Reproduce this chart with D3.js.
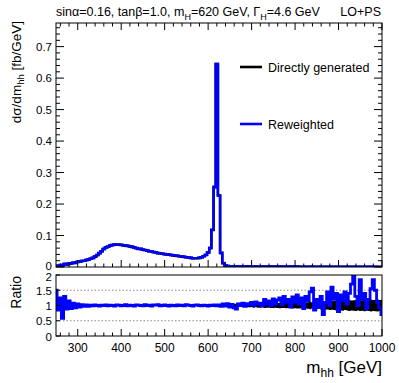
<!DOCTYPE html>
<html><head><meta charset="utf-8">
<script src="https://cdn.jsdelivr.net/npm/d3@7"></script>
<style>
body{margin:0;background:#fff;}
svg text{font-family:"Liberation Sans",Arial,Helvetica,sans-serif;fill:#000;}
</style>
</head><body>
<svg id="c" width="399" height="383"></svg>
<script>
// ---------------- data ----------------
const binWidth = 5;
const massCenters = d3.range(250, 1001, binWidth); // 151 bin centres, GeV

const directlyGenerated = [
  .003,.004,.005,.006,.008,.009,.010,.012,.013,.014,
  .016,.017,.019,.020,.022,.024,.026,.029,.033,.038,
  .044,.050,.057,.062,.065,.068,.070,.071,.071,.071,
  .070,.069,.068,.067,.065,.064,.062,.060,.058,.057,
  .055,.054,.052,.050,.049,.047,.046,.044,.043,.042,
  .041,.040,.039,.038,.037,.036,.035,.034,.033,.032,
  .031,.030,.029,.028,.028,.028,.029,.031,.034,.038,
  .046,.060,.118,.255,.645,.227,.045,.012,.005,.003,
  .0025,.0024,.0023,.0022,.0022,.0021,.0020,.0020,.0019,.0019,
  .0018,.0018,.0017,.0017,.0016,.0016,.0015,.0015,.0015,.0014,
  .0014,.0014,.0013,.0013,.0013,.0012,.0012,.0012,.0011,.0011,
  .0011,.0011,.0010,.0010,.0010,.0010,.0009,.0009,.0009,.0009,
  .0009,.0008,.0008,.0008,.0008,.0008,.0007,.0007,.0007,.0007,
  .0007,.0007,.0006,.0006,.0006,.0006,.0006,.0006,.0006,.0005,
  .0005,.0005,.0005,.0005,.0005,.0005,.0005,.0004,.0004,.0004,
  .0004
];

const reweighted = [
  .0045,.0034,.0062,.0035,.0104,.0079,.0115,.0108,.014,.0129,
  .0168,.0162,.0196,.0194,.0224,.0233,.0263,.0287,.0337,.0380,
  .0440,.0495,.0570,.0620,.0644,.0683,.0700,.0717,.0710,.0710,
  .0706,.0690,.0680,.0670,.0663,.0647,.0620,.0600,.0568,.0581,
  .0556,.0537,.0525,.0500,.0500,.0480,.0460,.0440,.0434,.0424,
  .0410,.0400,.0395,.0380,.0377,.0360,.0357,.0340,.0337,.0322,
  .0307,.0301,.0292,.0280,.0283,.0282,.0290,.0308,.0344,.0384,
  .0460,.0606,.1180,.2525,.6450,.2270,.0446,.0125,.0049,.0032,
  .0024,.0025,.0021,.0019,.0023,.0021,.0022,.0019,.0020,.0019,
  .0020,.0018,.0019,.0018,.0017,.0016,.0018,.0016,.0017,.0014,
  .0017,.0015,.0015,.0016,.0013,.0016,.0013,.0014,.0010,.0014,
  .0012,.0015,.0011,.0013,.0009,.0013,.0010,.0013,.0014,.0008,
  .0011,.0008,.0010,.0006,.0009,.0012,.0007,.0011,.0008,.0010,
  .0006,.0009,.0007,.0009,.0006,.0008,.0010,.0012,.0008,.0006,
  .0009,.0006,.0007,.0005,.0006,.0008,.0009,.0006,.0004,.0003,
  .0003
];

const ratioReweighted = [
  1.50,0.85,1.25,0.58,1.30,0.88,1.15,0.90,1.08,0.92,
  1.05,0.95,1.03,0.97,1.02,0.97,
  1.01,0.99,1.02,1.00,0.98,1.01,1.00,1.02,0.99,1.01,
  1.00,0.98,1.02,1.01,0.99,1.00,1.03,0.99,1.01,1.00,
  0.98,1.02,1.01,1.00,0.99,1.03,1.00,1.01,0.98,1.02,
  1.01,1.03,0.99,1.00,1.02,1.00,0.98,1.01,1.00,0.99,
  1.02,1.00,1.01,0.99,1.03,1.01,1.00,0.98,1.01,1.02,
  1.00,0.99,1.01,1.00,0.98,1.01,1.00,1.02,0.99,
  1.02,0.97,1.05,0.98,1.06,0.95,1.04,0.92,0.88,1.05,
  1.00,1.08,0.97,1.06,1.02,1.10,1.00,1.12,1.05,1.08,
  0.98,1.20,1.05,1.15,1.00,1.22,1.05,1.18,1.25,1.02,
  1.30,1.10,1.20,0.95,1.28,1.10,1.35,1.05,1.25,0.90,
  1.30,1.15,1.45,1.57,0.85,1.20,0.95,1.30,0.70,1.10,
  1.45,1.00,1.60,1.20,1.40,0.80,1.35,1.15,1.45,1.05,
  1.40,1.70,2.00,1.30,1.00,1.85,1.20,1.40,0.90,1.20,
  1.55,1.85,1.50,1.10,0.95,0.70
];

const ratioDirectBandHalf = [
  .12,.10,.09,.08,.07,.06,.06,.05,.05,.04,
  .04,.04,.03,.03,.03,.03,.025,.025,.02,.02,
  .02,.02,.02,.02,.02,.02,.02,.02,.02,.02,
  .02,.02,.02,.02,.02,.02,.02,.02,.02,.02,
  .02,.02,.02,.02,.02,.02,.02,.02,.02,.02,
  .02,.02,.02,.02,.02,.02,.02,.02,.02,.02,
  .02,.02,.02,.02,.02,.02,.02,.02,.02,.02,
  .02,.02,.015,.01,.01,.03,.04,.04,.05,.04,
  .05,.04,.05,.06,.05,.05,.06,.05,.06,.06,
  .06,.07,.06,.07,.07,.06,.08,.07,.07,.08,
  .08,.07,.08,.09,.08,.08,.09,.08,.09,.10,
  .09,.10,.10,.09,.11,.10,.11,.12,.10,.12,
  .12,.11,.13,.12,.14,.13,.15,.14,.15,.16,
  .15,.16,.17,.15,.16,.18,.16,.17,.18,.16,
  .18,.17,.19,.17,.18,.20,.18,.19,.20,.18,
  .19
];

const xMajorTicks = [300,400,500,600,700,800,900,1000];
const yMajorTicksTop = [0,0.1,0.2,0.3,0.4,0.5,0.6,0.7];
const yTickLabelsTop = ["0","0.1","0.2","0.3","0.4","0.5","0.6","0.7"];
const yMajorTicksRatio = [0,0.5,1,1.5,2];
const yTickLabelsRatio = ["0","0.5","1","1.5","2"];
const ratioGuideLines = [0.5,1.5];
const legendLabels = ["Directly generated","Reweighted"];
const seriesColors = ["#000000","#0000ff"];

// ---------------- layout ----------------
const svg = d3.select("#c");
const L = 56, R = 382;
const topT = 23, topB = 267;
const ratT = 275, ratB = 336;

const x = d3.scaleLinear().domain([250,1000]).range([L,R]);
const yTop = d3.scaleLinear().domain([0,0.775]).range([topB,topT]);
const yRat = d3.scaleLinear().domain([0,2]).range([ratB,ratT]);

const defs = svg.append("defs");
defs.append("clipPath").attr("id","clipTop").append("rect")
  .attr("x",L).attr("y",topT).attr("width",R-L).attr("height",topB-topT);
defs.append("clipPath").attr("id","clipRat").append("rect")
  .attr("x",L).attr("y",ratT).attr("width",R-L).attr("height",ratB-ratT);

function stepPoints(vals){
  const pts=[];
  massCenters.forEach((c,i)=>{
    const x0=Math.max(250,c-binWidth/2), x1=Math.min(1000,c+binWidth/2);
    pts.push([x0,vals[i]],[x1,vals[i]]);
  });
  return pts;
}

// ---------------- top panel ----------------
const lineTop = d3.line().x(d=>x(d[0])).y(d=>yTop(d[1]));
const gTop = svg.append("g").attr("clip-path","url(#clipTop)");
gTop.append("path").attr("d",lineTop(stepPoints(directlyGenerated)))
  .attr("fill","none").attr("stroke",seriesColors[0]).attr("stroke-width",2.6);
gTop.append("path").attr("d",lineTop(stepPoints(reweighted)))
  .attr("fill","none").attr("stroke",seriesColors[1]).attr("stroke-width",2.4);

svg.append("rect").attr("x",L).attr("y",topT).attr("width",R-L).attr("height",topB-topT)
  .attr("fill","none").attr("stroke","#000").attr("stroke-width",1);

const xMinor = d3.range(260,1000,20).filter(v=>!xMajorTicks.includes(v));
const tickG = svg.append("g").attr("stroke","#000").attr("stroke-width",1);
xMajorTicks.concat(xMinor).forEach(v=>{
  const len = xMajorTicks.includes(v)?7:3.5;
  tickG.append("line").attr("x1",x(v)).attr("x2",x(v)).attr("y1",topB).attr("y2",topB-len);
  tickG.append("line").attr("x1",x(v)).attr("x2",x(v)).attr("y1",topT).attr("y2",topT+len);
  tickG.append("line").attr("x1",x(v)).attr("x2",x(v)).attr("y1",ratB).attr("y2",ratB-len);
});
const yMinorTop = d3.range(0,0.775,0.02).filter(v=>Math.abs(v*10-Math.round(v*10))>1e-6);
yMajorTicksTop.forEach(v=>{
  tickG.append("line").attr("x1",L).attr("x2",L+8).attr("y1",yTop(v)).attr("y2",yTop(v));
  tickG.append("line").attr("x1",R).attr("x2",R-8).attr("y1",yTop(v)).attr("y2",yTop(v));
});
yMinorTop.forEach(v=>{
  tickG.append("line").attr("x1",L).attr("x2",L+4).attr("y1",yTop(v)).attr("y2",yTop(v));
  tickG.append("line").attr("x1",R).attr("x2",R-4).attr("y1",yTop(v)).attr("y2",yTop(v));
});
yMajorTicksTop.forEach((v,i)=>{
  svg.append("text").attr("x",L-4).attr("y",yTop(v)+(v===0?3:4)).attr("text-anchor","end")
    .attr("font-size",11.5).text(yTickLabelsTop[i]);
});

// legend
const legY = [67,124];
legendLabels.forEach((lab,i)=>{
  svg.append("line").attr("x1",240).attr("x2",262).attr("y1",legY[i]).attr("y2",legY[i])
    .attr("stroke",seriesColors[i]).attr("stroke-width",2.6);
  svg.append("text").attr("x",268).attr("y",legY[i]+4.5).attr("font-size",12.5).text(lab);
});

// title
const title = svg.append("text").attr("x",56).attr("y",16).attr("font-size",12.5);
title.append("tspan").text("sinα=0.16, tanβ=1.0, m");
title.append("tspan").attr("dy",3.5).attr("font-size",9).text("H");
title.append("tspan").attr("dy",-3.5).text("=620 GeV, Γ");
title.append("tspan").attr("dy",3.5).attr("font-size",9).text("H");
title.append("tspan").attr("dy",-3.5).text("=4.6 GeV");
svg.append("text").attr("x",381).attr("y",16).attr("text-anchor","end").attr("font-size",12.5).text("LO+PS");

// y title top
const yt = svg.append("text").attr("transform",`translate(20.5,21) rotate(-90)`)
  .attr("text-anchor","end").attr("font-size",13.5);
yt.append("tspan").text("dσ/dm");
yt.append("tspan").attr("dy",3.5).attr("font-size",9.5).text("hh");
yt.append("tspan").attr("dy",-3.5).text(" [fb/GeV]");

// ---------------- ratio panel ----------------
const gRat = svg.append("g").attr("clip-path","url(#clipRat)");
ratioGuideLines.forEach(v=>{
  gRat.append("line").attr("x1",L).attr("x2",R).attr("y1",yRat(v)).attr("y2",yRat(v))
    .attr("stroke","#888").attr("stroke-width",1).attr("stroke-dasharray","1.5,2");
});
const bandPts=[];
massCenters.forEach((c,i)=>{
  const x0=Math.max(250,c-binWidth/2), x1=Math.min(1000,c+binWidth/2);
  bandPts.push([x0,ratioDirectBandHalf[i]],[x1,ratioDirectBandHalf[i]]);
});
gRat.append("path").attr("d",d3.area().x(d=>x(d[0])).y0(d=>yRat(1-d[1])).y1(d=>yRat(1+d[1]))(bandPts))
  .attr("fill","#000");
gRat.append("path").attr("d",d3.line().x(d=>x(d[0])).y(d=>yRat(d[1]))(stepPoints(ratioReweighted)))
  .attr("fill","none").attr("stroke",seriesColors[1]).attr("stroke-width",2.8);

svg.append("rect").attr("x",L).attr("y",ratT).attr("width",R-L).attr("height",ratB-ratT)
  .attr("fill","none").attr("stroke","#000").attr("stroke-width",1);
yMajorTicksRatio.forEach((v,i)=>{
  svg.append("line").attr("x1",L).attr("x2",L+4).attr("y1",yRat(v)).attr("y2",yRat(v)).attr("stroke","#000");
  svg.append("text").attr("x",L-4).attr("y",yRat(v)+(v===2?5.5:4.5)).attr("text-anchor","end")
    .attr("font-size",11.5).text(yTickLabelsRatio[i]);
});
xMajorTicks.forEach(v=>{
  svg.append("text").attr("x",x(v)).attr("y",352).attr("text-anchor","middle")
    .attr("font-size",12).text(String(v));
});
svg.append("text").attr("transform",`translate(20.5,${ratT+1}) rotate(-90)`)
  .attr("text-anchor","end").attr("font-size",14).text("Ratio");

const xt = svg.append("text").attr("x",382).attr("y",373).attr("text-anchor","end").attr("font-size",17);
xt.append("tspan").text("m");
xt.append("tspan").attr("dy",4).attr("font-size",12).text("hh");
xt.append("tspan").attr("dy",-4).text(" [GeV]");
</script>
</body></html>
